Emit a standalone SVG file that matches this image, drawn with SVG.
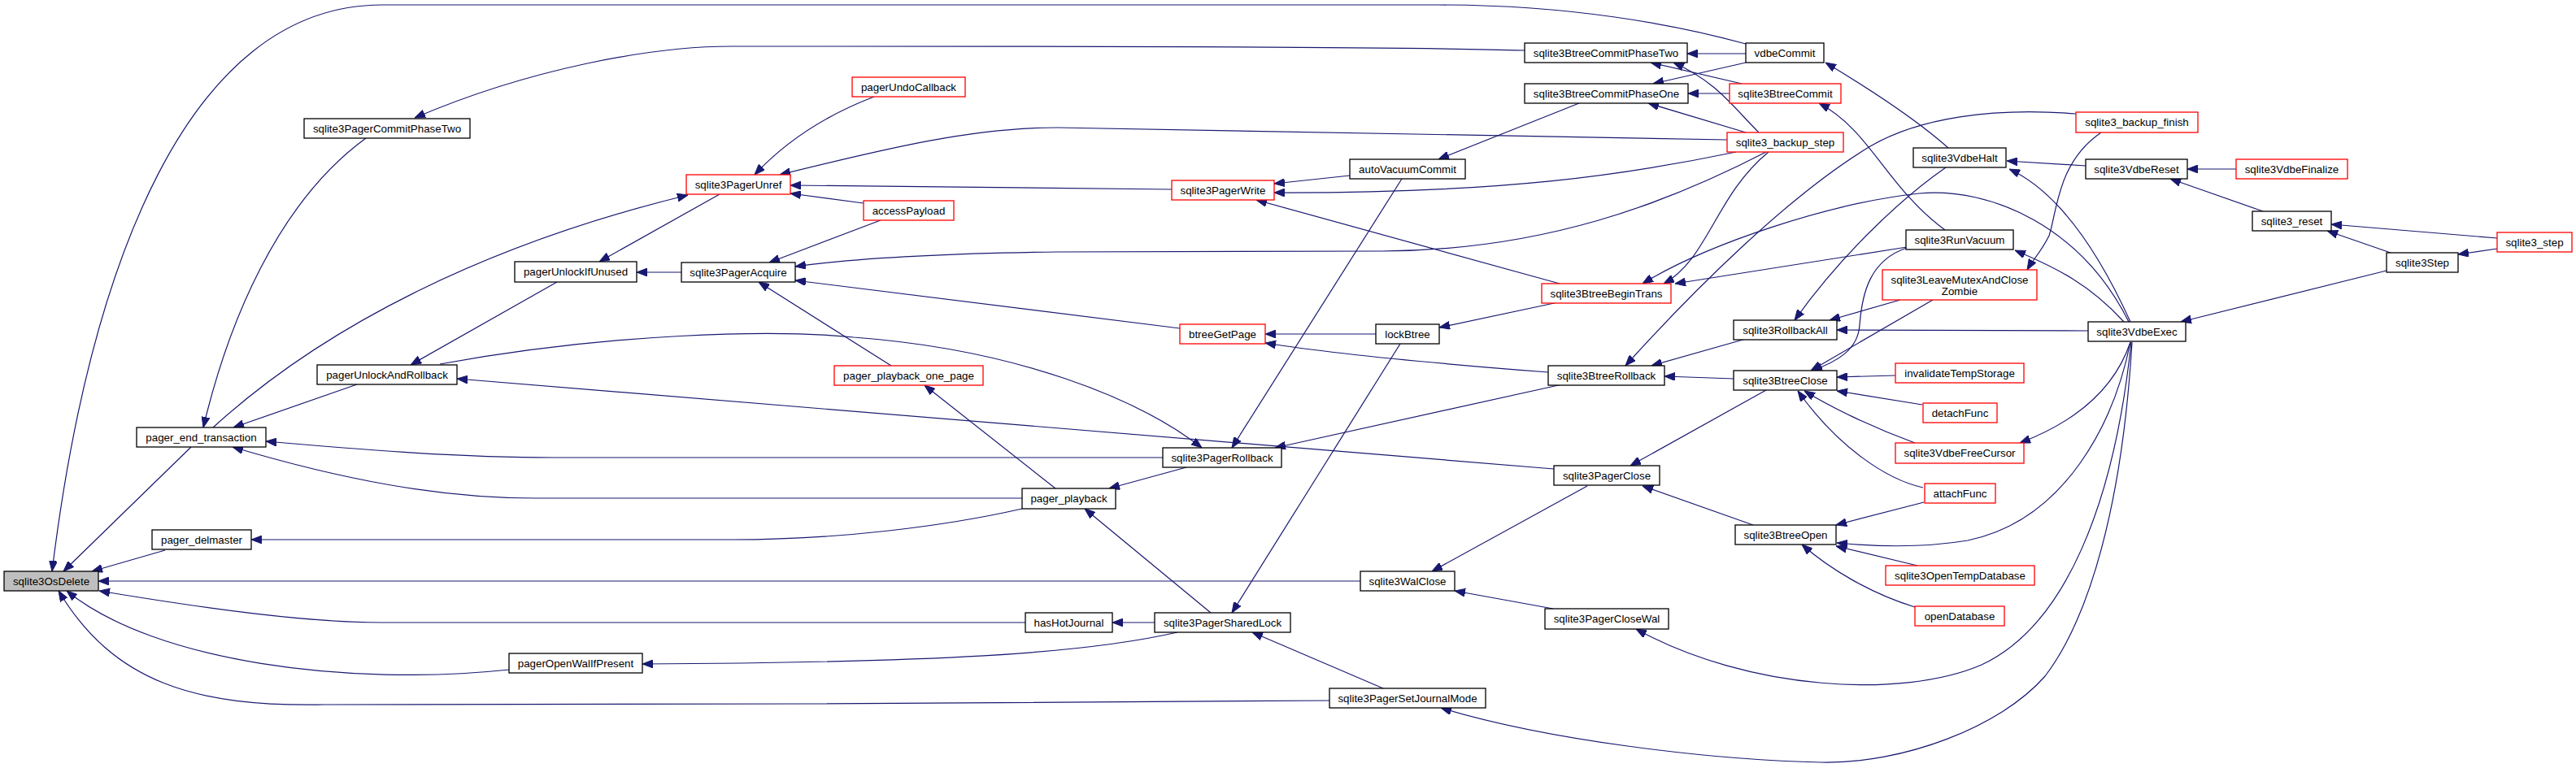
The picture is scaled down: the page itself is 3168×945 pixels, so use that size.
<svg xmlns="http://www.w3.org/2000/svg" width="3168" height="945" viewBox="0 0 3168 945">
<style>
.n rect{fill:#fff;stroke:#000;stroke-width:1.3}
.r rect{fill:#fff;stroke:#ff0000;stroke-width:1.3}
.g rect{fill:#bfbfbf;stroke:#000;stroke-width:1.3}
text{font-family:"Liberation Sans",Arial,sans-serif;font-size:13.33px;fill:#000;text-anchor:middle}
.e path{fill:none;stroke:#191970;stroke-width:1.2;marker-end:url(#a)}
</style>
<defs>
<marker id="a" viewBox="0 0 13 10" refX="13" refY="5" markerWidth="13" markerHeight="10" orient="auto" markerUnits="userSpaceOnUse">
<path d="M0,0 L13,5 L0,10 z" fill="#191970" stroke="#191970" stroke-width="1"/>
</marker>
</defs>
<rect width="3168" height="945" fill="#fff"/>
<g id="connectors" class="e">
<path d="M2147,54 C2060,30 1930,6 1770,6 L470,6 C230,6 110,330 64,703"/>
<path d="M235,550 L78,703"/>
<path d="M203,677 L113,703"/>
<path d="M1673,715 L121,715"/>
<path d="M1261,766 L470,766 C380,766 260,750 122,727"/>
<path d="M626,824 C430,845 190,815 82,727"/>
<path d="M1635,862 L1000,866 L400,867 C240,870 140,840 72,727"/>
<path d="M450,170 C340,250 280,400 250,526"/>
<path d="M439,473 L287,526"/>
<path d="M262,526 C400,400 600,300 846,240"/>
<path d="M1430,563 L680,563 C560,563 430,552 327,543"/>
<path d="M1257,613 L660,613 C540,613 420,590 286,550"/>
<path d="M1257,626 C1160,648 1030,664 900,664 L309,664"/>
<path d="M1096,450 L933,347"/>
<path d="M1298,601 L1137,474"/>
<path d="M1459,575 L1364,601"/>
<path d="M1489,754 L1334,626"/>
<path d="M1722,423 L1515,754"/>
<path d="M1420,766 L1368,766"/>
<path d="M1448,778 C1330,805 1150,815 790,817"/>
<path d="M1701,847 L1540,778"/>
<path d="M541,448 C750,410 950,405 1050,415 C1250,430 1400,490 1478,551"/>
<path d="M1724,220 L1515,551"/>
<path d="M1921,473 L1568,551"/>
<path d="M685,347 L505,449"/>
<path d="M1911,577 L562,466"/>
<path d="M885,239 L737,322"/>
<path d="M838,335 L783,335"/>
<path d="M1875,62 C1700,57 1300,57 900,57 C800,57 650,85 510,145"/>
<path d="M1075,119 C1020,140 970,170 928,215"/>
<path d="M2124,172 L1300,157 C1200,157 1100,180 959,215"/>
<path d="M1441,233 L972,228"/>
<path d="M1062,250 L972,238"/>
<path d="M1083,271 L946,323"/>
<path d="M2172,187 C2050,250 1900,308 1700,309 L1300,310 C1150,312 1050,318 978,328"/>
<path d="M1451,404 L978,345"/>
<path d="M1660,216 L1567,226"/>
<path d="M2135,187 C2000,215 1850,238 1567,237"/>
<path d="M1918,349 L1545,246"/>
<path d="M1692,411 L1556,411"/>
<path d="M1904,458 C1800,450 1650,437 1556,422"/>
<path d="M1942,127 L1769,196"/>
<path d="M2147,66 L2075,66"/>
<path d="M2142,103 L2030,77"/>
<path d="M2163,163 C2130,130 2110,100 2058,77"/>
<path d="M2147,77 L2033,103"/>
<path d="M2127,115 L2076,115"/>
<path d="M2147,163 L2027,127"/>
<path d="M2392,283 C2320,230 2300,160 2237,127"/>
<path d="M2396,182 C2360,150 2300,110 2245,77"/>
<path d="M2175,187 C2110,240 2100,320 2046,349"/>
<path d="M2345,304 L2060,349"/>
<path d="M2618,396 C2560,280 2450,230 2360,238 C2250,250 2100,300 2020,349"/>
<path d="M1916,372 L1770,403"/>
<path d="M2553,140 C2450,132 2360,145 2300,180 C2200,240 2080,360 1999,450"/>
<path d="M2147,417 L2031,450"/>
<path d="M2132,466 L2047,463"/>
<path d="M2393,206 C2330,250 2260,320 2207,394"/>
<path d="M2337,369 L2250,394"/>
<path d="M2568,407 L2259,406"/>
<path d="M2345,305 C2300,320 2290,360 2287,400 C2285,430 2260,445 2228,456"/>
<path d="M2377,369 L2227,456"/>
<path d="M2331,462 L2259,464"/>
<path d="M2364,498 L2259,481"/>
<path d="M2355,545 C2300,525 2250,500 2219,481"/>
<path d="M2365,600 C2320,590 2260,550 2211,481"/>
<path d="M2172,480 L2005,573"/>
<path d="M2156,646 L2020,598"/>
<path d="M2366,618 L2258,646"/>
<path d="M2620,421 C2600,520 2540,640 2420,665 C2360,675 2300,672 2259,668"/>
<path d="M2358,696 L2258,672"/>
<path d="M2355,747 C2300,730 2250,700 2216,670"/>
<path d="M1952,598 L1761,703"/>
<path d="M1910,749 L1789,727"/>
<path d="M2621,421 C2600,620 2540,770 2437,818 C2340,860 2150,850 2012,774"/>
<path d="M2622,421 C2610,620 2570,760 2515,832 C2460,895 2340,940 2240,938 C2100,935 1900,910 1772,871"/>
<path d="M2584,163 C2530,200 2530,260 2520,290 C2510,310 2500,320 2493,332"/>
<path d="M2565,204 L2468,198"/>
<path d="M2620,396 C2590,330 2540,240 2471,208"/>
<path d="M2612,396 C2570,350 2530,330 2478,308"/>
<path d="M2750,208 L2690,208"/>
<path d="M2783,260 L2669,220"/>
<path d="M3071,293 L2867,276"/>
<path d="M2940,311 L2862,284"/>
<path d="M3071,306 L3023,313"/>
<path d="M2935,333 L2682,396"/>
<path d="M2620,421 C2600,480 2550,520 2484,545"/>
</g>
<g id="sqlite3OsDelete" class="g"><rect x="5" y="703" width="116" height="24"/><text x="63" y="720">sqlite3OsDelete</text></g>
<g id="pager_end_transaction" class="n"><rect x="168" y="526" width="159" height="24"/><text x="247.5" y="543">pager_end_transaction</text></g>
<g id="pager_delmaster" class="n"><rect x="187" y="652" width="122" height="24"/><text x="248" y="669">pager_delmaster</text></g>
<g id="sqlite3PagerCommitPhaseTwo" class="n"><rect x="374" y="146" width="204" height="24"/><text x="476" y="163">sqlite3PagerCommitPhaseTwo</text></g>
<g id="pagerUnlockAndRollback" class="n"><rect x="390" y="449" width="172" height="24"/><text x="476" y="466">pagerUnlockAndRollback</text></g>
<g id="pagerUnlockIfUnused" class="n"><rect x="633" y="322" width="150" height="25"/><text x="708" y="339">pagerUnlockIfUnused</text></g>
<g id="pagerOpenWalIfPresent" class="n"><rect x="626" y="804" width="164" height="24"/><text x="708" y="821">pagerOpenWalIfPresent</text></g>
<g id="pagerUndoCallback" class="r"><rect x="1048" y="95" width="139" height="24"/><text x="1117.5" y="112">pagerUndoCallback</text></g>
<g id="sqlite3PagerUnref" class="r"><rect x="844" y="215" width="128" height="24"/><text x="908" y="232">sqlite3PagerUnref</text></g>
<g id="accessPayload" class="r"><rect x="1062" y="247" width="111" height="24"/><text x="1117.5" y="264">accessPayload</text></g>
<g id="sqlite3PagerAcquire" class="n"><rect x="838" y="323" width="140" height="24"/><text x="908" y="340">sqlite3PagerAcquire</text></g>
<g id="pager_playback_one_page" class="r"><rect x="1026" y="450" width="183" height="24"/><text x="1117.5" y="467">pager_playback_one_page</text></g>
<g id="sqlite3PagerWrite" class="r"><rect x="1441" y="222" width="126" height="24"/><text x="1504" y="239">sqlite3PagerWrite</text></g>
<g id="btreeGetPage" class="r"><rect x="1451" y="399" width="105" height="24"/><text x="1503.5" y="416">btreeGetPage</text></g>
<g id="sqlite3PagerRollback" class="n"><rect x="1430" y="551" width="146" height="24"/><text x="1503" y="568">sqlite3PagerRollback</text></g>
<g id="pager_playback" class="n"><rect x="1257" y="601" width="115" height="25"/><text x="1314.5" y="618">pager_playback</text></g>
<g id="hasHotJournal" class="n"><rect x="1261" y="754" width="107" height="24"/><text x="1314.5" y="771">hasHotJournal</text></g>
<g id="sqlite3PagerSharedLock" class="n"><rect x="1420" y="754" width="167" height="24"/><text x="1503.5" y="771">sqlite3PagerSharedLock</text></g>
<g id="autoVacuumCommit" class="n"><rect x="1660" y="196" width="142" height="24"/><text x="1731" y="213">autoVacuumCommit</text></g>
<g id="lockBtree" class="n"><rect x="1692" y="399" width="78" height="24"/><text x="1731" y="416">lockBtree</text></g>
<g id="sqlite3WalClose" class="n"><rect x="1673" y="703" width="116" height="24"/><text x="1731" y="720">sqlite3WalClose</text></g>
<g id="sqlite3PagerSetJournalMode" class="n"><rect x="1635" y="847" width="192" height="24"/><text x="1731" y="864">sqlite3PagerSetJournalMode</text></g>
<g id="sqlite3BtreeCommitPhaseTwo" class="n"><rect x="1875" y="53" width="200" height="24"/><text x="1975" y="70">sqlite3BtreeCommitPhaseTwo</text></g>
<g id="sqlite3BtreeCommitPhaseOne" class="n"><rect x="1875" y="103" width="201" height="24"/><text x="1975.5" y="120">sqlite3BtreeCommitPhaseOne</text></g>
<g id="sqlite3BtreeBeginTrans" class="r"><rect x="1896" y="349" width="159" height="24"/><text x="1975.5" y="366">sqlite3BtreeBeginTrans</text></g>
<g id="sqlite3BtreeRollback" class="n"><rect x="1904" y="450" width="143" height="24"/><text x="1975.5" y="467">sqlite3BtreeRollback</text></g>
<g id="sqlite3PagerClose" class="n"><rect x="1911" y="573" width="130" height="24"/><text x="1976" y="590">sqlite3PagerClose</text></g>
<g id="sqlite3PagerCloseWal" class="n"><rect x="1900" y="749" width="152" height="25"/><text x="1976" y="766">sqlite3PagerCloseWal</text></g>
<g id="vdbeCommit" class="n"><rect x="2147" y="53" width="96" height="24"/><text x="2195" y="70">vdbeCommit</text></g>
<g id="sqlite3BtreeCommit" class="r"><rect x="2127" y="103" width="137" height="24"/><text x="2195.5" y="120">sqlite3BtreeCommit</text></g>
<g id="sqlite3_backup_step" class="r"><rect x="2124" y="163" width="143" height="24"/><text x="2195.5" y="180">sqlite3_backup_step</text></g>
<g id="sqlite3RollbackAll" class="n"><rect x="2132" y="394" width="127" height="24"/><text x="2195.5" y="411">sqlite3RollbackAll</text></g>
<g id="sqlite3BtreeClose" class="n"><rect x="2132" y="456" width="127" height="24"/><text x="2195.5" y="473">sqlite3BtreeClose</text></g>
<g id="sqlite3BtreeOpen" class="n"><rect x="2134" y="646" width="124" height="24"/><text x="2196" y="663">sqlite3BtreeOpen</text></g>
<g id="sqlite3VdbeHalt" class="n"><rect x="2353" y="182" width="114" height="24"/><text x="2410" y="199">sqlite3VdbeHalt</text></g>
<g id="sqlite3RunVacuum" class="n"><rect x="2344" y="283" width="132" height="24"/><text x="2410" y="300">sqlite3RunVacuum</text></g>
<g id="sqlite3LeaveMutexAndCloseZombie" class="r"><rect x="2315" y="332" width="190" height="37"/><text x="2410" y="349">sqlite3LeaveMutexAndClose</text><text x="2410" y="363">Zombie</text></g>
<g id="invalidateTempStorage" class="r"><rect x="2331" y="447" width="158" height="24"/><text x="2410" y="464">invalidateTempStorage</text></g>
<g id="detachFunc" class="r"><rect x="2365" y="496" width="91" height="24"/><text x="2410.5" y="513">detachFunc</text></g>
<g id="sqlite3VdbeFreeCursor" class="r"><rect x="2331" y="545" width="158" height="25"/><text x="2410" y="562">sqlite3VdbeFreeCursor</text></g>
<g id="attachFunc" class="r"><rect x="2367" y="595" width="87" height="24"/><text x="2410.5" y="612">attachFunc</text></g>
<g id="sqlite3OpenTempDatabase" class="r"><rect x="2319" y="696" width="183" height="24"/><text x="2410.5" y="713">sqlite3OpenTempDatabase</text></g>
<g id="openDatabase" class="r"><rect x="2355" y="746" width="110" height="24"/><text x="2410" y="763">openDatabase</text></g>
<g id="sqlite3_backup_finish" class="r"><rect x="2553" y="138" width="150" height="25"/><text x="2628" y="155">sqlite3_backup_finish</text></g>
<g id="sqlite3VdbeReset" class="n"><rect x="2565" y="196" width="125" height="24"/><text x="2627.5" y="213">sqlite3VdbeReset</text></g>
<g id="sqlite3VdbeExec" class="n"><rect x="2568" y="396" width="120" height="24"/><text x="2628" y="413">sqlite3VdbeExec</text></g>
<g id="sqlite3VdbeFinalize" class="r"><rect x="2750" y="196" width="137" height="24"/><text x="2818.5" y="213">sqlite3VdbeFinalize</text></g>
<g id="sqlite3_reset" class="n"><rect x="2770" y="260" width="97" height="24"/><text x="2818.5" y="277">sqlite3_reset</text></g>
<g id="sqlite3_step" class="r"><rect x="3071" y="286" width="92" height="24"/><text x="3117" y="303">sqlite3_step</text></g>
<g id="sqlite3Step" class="n"><rect x="2935" y="311" width="88" height="24"/><text x="2979" y="328">sqlite3Step</text></g>
</svg>
